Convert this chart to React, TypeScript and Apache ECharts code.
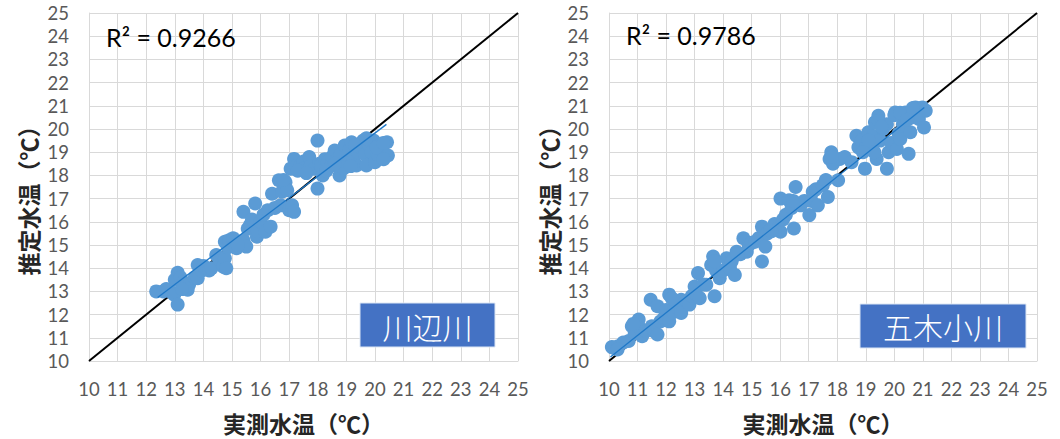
import React, { useEffect, useRef } from "react";
import * as echarts from "echarts";

// ---- Data ----
const AXIS_MIN = 10;
const AXIS_MAX = 25;
const AXIS_STEP = 1;
const ONE_TO_ONE = [AXIS_MIN, AXIS_MAX];

const xAxisTitle = "実測水温（℃）";
const yAxisTitle = "推定水温（℃）";

// 川辺川 (Kawabe River): measured vs estimated water temperature
const leftName = "川辺川";
const leftR2 = "R² = 0.9266";
const leftActual = [
  12.35, 12.6, 12.7, 12.9, 12.98, 13.1, 13.0, 13.1, 13.2, 13.3, 13.45, 13.5, 13.7, 13.8, 13.8, 13.95, 14.0, 14.1, 14.2,
  14.28, 14.45, 14.55, 14.6, 14.69, 14.75, 14.75, 14.85, 14.9, 15.04, 15.1, 15.16, 15.3, 15.4, 15.5, 15.4, 15.55, 15.63,
  15.7, 15.81, 15.87, 15.9, 16.0, 16.1, 16.17, 16.25, 16.35, 16.4, 16.5, 16.64, 16.7, 16.75, 16.87, 16.93, 17.0, 17.1,
  17.17, 17.05, 17.17, 17.25, 17.4, 17.5, 17.52, 17.7, 17.75, 17.88, 17.99, 17.99, 18.05, 18.11, 18.17, 18.25, 18.35,
  18.47, 18.5, 18.59, 18.7, 18.76, 18.8, 18.94, 19.0, 19.06, 19.1, 19.18, 19.25, 19.35, 19.41, 19.5, 19.59, 19.65, 19.7,
  19.8, 19.88, 19.95, 20.0, 20.1, 20.18, 20.25, 20.42, 20.45, 20.3,
  17.3, 17.6, 18.3, 18.9, 19.3, 19.7, 20.05, 20.3, 19.15, 18.6, 16.8, 15.2, 14.8, 13.25,
];
const leftEstimated = [
  13.0, 13.0, 13.1, 12.95, 12.86, 12.43, 13.5, 13.8, 13.6, 13.4, 13.07, 13.3, 13.6, 13.57, 14.14, 13.9, 14.1, 14.0, 13.9,
  14.0, 14.57, 14.4, 14.3, 14.07, 14.43, 15.14, 14.9, 15.2, 15.29, 15.0, 14.86, 15.1, 15.2, 14.93, 16.43, 15.7, 15.86,
  16.1, 16.79, 15.36, 15.6, 16.0, 16.3, 15.57, 16.5, 15.79, 17.21, 16.6, 17.79, 16.71, 17.3, 17.71, 17.36, 16.5, 16.71,
  16.43, 18.29, 18.71, 18.4, 18.43, 18.6, 18.3, 18.79, 18.4, 18.29, 19.5, 17.43, 18.5, 18.43, 18.0, 18.7, 18.57,
  18.43, 18.8, 19.07, 18.71, 18.0, 18.9, 19.29, 18.6, 18.86, 19.1, 19.43, 18.7, 18.43, 19.0, 19.2, 19.5, 18.9, 18.43,
  19.3, 19.0, 19.5, 18.57, 18.9, 19.29, 19.1, 19.43, 18.86, 18.7,
  18.2, 18.1, 18.2, 18.3, 19.3, 19.6, 19.2, 19.4, 18.4, 18.5, 17.8, 15.0, 14.0, 13.1,
];
const leftTrendX = [12.4, 20.4];
const leftTrendY = [12.74, 20.2];

// 五木小川 (Itsukiogawa River)
const rightName = "五木小川";
const rightR2 = "R² = 0.9786";
const rightActual = [
  10.1, 10.15, 10.33, 10.5, 10.69, 10.8, 10.9, 11.04, 11.1, 11.16, 11.3, 11.46, 11.5, 11.58, 11.7, 11.7, 11.8, 11.93, 12.0,
  12.11, 12.11, 12.25, 12.35, 12.4, 12.53, 12.53, 12.7, 12.82, 12.9, 13.0, 13.05, 13.12, 13.18, 13.3, 13.41, 13.58, 13.65,
  13.7, 13.75, 13.88, 14.0, 14.12, 14.24, 14.3, 14.41, 14.47, 14.6, 14.71, 14.83, 14.9, 15.0, 15.12, 15.25, 15.36, 15.36,
  15.48, 15.55, 15.65, 15.8, 15.9, 16.01, 16.01, 16.1, 16.2, 16.31, 16.4, 16.48, 16.54, 16.6, 16.72, 16.85, 17.02, 17.1,
  17.14, 17.25, 17.32, 17.49, 17.6, 17.67, 17.73, 17.79, 17.85, 18.03, 18.09, 18.26, 18.5, 18.67, 18.74, 18.85, 18.97,
  19.0, 19.09, 19.2, 19.25, 19.32, 19.38, 19.44, 19.5, 19.6, 19.74, 19.74, 19.8, 19.9, 20.03, 20.09, 20.15, 20.21, 20.3,
  20.39, 20.5, 20.56, 20.6, 20.74, 20.86, 20.98, 21.04, 21.1,
  19.1, 19.45, 19.55, 19.3, 20.0, 20.2, 20.65, 20.45, 18.9, 17.8, 16.45, 15.7, 14.5, 13.7, 12.2, 10.3, 10.85,
];
const rightEstimated = [
  10.6, 10.57, 10.64, 10.8, 10.86, 11.5, 11.2, 11.79, 11.4, 11.07, 11.3, 12.64, 11.5, 11.29, 11.14, 12.36, 11.7, 11.86, 12.2,
  12.86, 11.71, 12.1, 12.6, 12.3, 12.07, 12.64, 12.6, 12.43, 12.8, 13.21, 12.9, 13.79, 12.71, 13.3, 13.29, 14.14, 14.5,
  12.79, 13.9, 13.57, 13.9, 14.43, 14.0, 14.3, 13.71, 14.71, 14.6, 15.29, 14.71, 15.0, 15.1, 15.14, 15.3, 15.79, 14.29,
  14.93, 15.5, 15.64, 15.9, 15.7, 17.0, 15.57, 16.1, 16.3, 16.93, 16.6, 15.71, 17.5, 16.8, 16.71, 16.9, 16.29, 16.9,
  17.29, 17.4, 16.71, 17.57, 17.8, 17.07, 18.71, 19.0, 18.5, 17.79, 18.71, 18.79, 18.57, 19.71, 19.21, 19.5, 18.29,
  19.2, 19.86, 19.29, 19.7, 20.29, 18.71, 20.57, 19.5, 20.0, 20.21, 18.29, 19.0, 19.4, 20.71, 19.14, 19.8, 19.57, 20.2,
  20.71, 18.93, 19.86, 20.5, 20.93, 20.43, 20.93, 20.07, 20.79,
  19.5, 20.35, 20.1, 19.0, 20.6, 20.7, 20.9, 20.4, 19.0, 18.8, 16.9, 15.6, 14.6, 14.3, 12.7, 10.5, 11.6,
];
const rightTrendX = [10.05, 21.05];
const rightTrendY = [10.17, 20.93];

// ---- Styles ----
const NUM_FONT = "Lato, 'Noto Sans', sans-serif";
const CJK_FONT = "'Noto Sans CJK JP', sans-serif";
const GRID_COLOR = "#D9D9D9";
const LABEL_COLOR = "#595959";
const POINT_COLOR = "#5B9BD5";
const TREND_COLOR = "#1F78C8";
const BOX_COLOR = "#4472C4";

const pairs = (xs: number[], ys: number[]) => xs.map((x, i) => [x, ys[i]]);

function makeAxis(kind: "x" | "y", index: number) {
  const base: any = {
    type: "value",
    gridIndex: index,
    min: AXIS_MIN,
    max: AXIS_MAX,
    interval: AXIS_STEP,
    axisLine: { show: true, lineStyle: { color: GRID_COLOR, width: 1 } },
    axisTick: { show: false },
    splitLine: { show: true, lineStyle: { color: GRID_COLOR, width: 1 } },
    axisLabel: {
      color: LABEL_COLOR,
      fontSize: 18.5,
      fontFamily: NUM_FONT,
      margin: kind === "x" ? 18 : 20,
    },
  };
  if (kind === "x") {
    base.name = xAxisTitle;
    base.nameLocation = "middle";
    base.nameGap = 50;
    base.nameTextStyle = {
      fontSize: 23,
      fontWeight: "bold",
      fontFamily: CJK_FONT,
      color: "#262626",
    };
  }
  return base;
}

export default function App() {
  const ref = useRef<HTMLDivElement>(null);

  useEffect(() => {
    if (!ref.current) return;
    const chart = echarts.init(ref.current, undefined, { renderer: "svg" });

    const grids = [
      { left: 89, top: 13, width: 429, height: 350 },
      { left: 609, top: 13, width: 428, height: 350 },
    ];

    const panels = [
      { actual: leftActual, est: leftEstimated, tx: leftTrendX, ty: leftTrendY },
      { actual: rightActual, est: rightEstimated, tx: rightTrendX, ty: rightTrendY },
    ];

    const series: any[] = [];
    panels.forEach((p, i) => {
      series.push({
        type: "line",
        xAxisIndex: i,
        yAxisIndex: i,
        data: [
          [ONE_TO_ONE[0], ONE_TO_ONE[0]],
          [ONE_TO_ONE[1], ONE_TO_ONE[1]],
        ],
        symbol: "none",
        lineStyle: { color: "#000000", width: 2 },
        z: 1,
        silent: true,
      });
      series.push({
        type: "scatter",
        xAxisIndex: i,
        yAxisIndex: i,
        data: pairs(p.actual, p.est),
        symbolSize: 14,
        itemStyle: { color: POINT_COLOR, opacity: 1 },
        z: 2,
      });
      series.push({
        type: "line",
        xAxisIndex: i,
        yAxisIndex: i,
        data: pairs(p.tx, p.ty),
        symbol: "none",
        lineStyle: { color: TREND_COLOR, width: 1.3 },
        z: 3,
        silent: true,
      });
    });

    const textStyleR2 = { fontSize: 25, fontFamily: NUM_FONT, fill: "#000", align: "left", verticalAlign: "middle" };
    const titleStyle = { fontSize: 23, fontFamily: CJK_FONT, fontWeight: "bold", fill: "#262626", align: "center", verticalAlign: "middle" };
    const nameStyle = { fontSize: 30, fontFamily: CJK_FONT, fontWeight: 300, fill: "#FFFFFF", align: "center", verticalAlign: "middle" };

    const graphic: any[] = [
      { type: "text", x: 106, y: 37, style: { ...textStyleR2, text: leftR2 }, z: 10 },
      { type: "text", x: 626, y: 35, style: { ...textStyleR2, text: rightR2 }, z: 10 },
      {
        type: "rect",
        shape: { x: 360, y: 303, width: 135, height: 44 },
        style: { fill: BOX_COLOR, stroke: "#DCE6F4", lineWidth: 1 },
        z: 10,
      },
      { type: "text", x: 427.5, y: 326, style: { ...nameStyle, text: leftName }, z: 11 },
      {
        type: "rect",
        shape: { x: 860, y: 304, width: 166, height: 44 },
        style: { fill: BOX_COLOR, stroke: "#DCE6F4", lineWidth: 1 },
        z: 10,
      },
      { type: "text", x: 943, y: 326, style: { ...nameStyle, text: rightName }, z: 11 },
      { type: "text", x: 28, y: 195, rotation: Math.PI / 2, style: { ...titleStyle, text: yAxisTitle }, z: 10 },
      { type: "text", x: 549, y: 195, rotation: Math.PI / 2, style: { ...titleStyle, text: yAxisTitle }, z: 10 },
    ];

    chart.setOption({
      animation: false,
      backgroundColor: "#FFFFFF",
      grid: grids,
      xAxis: [makeAxis("x", 0), makeAxis("x", 1)],
      yAxis: [makeAxis("y", 0), makeAxis("y", 1)],
      series,
      graphic,
    });

    return () => chart.dispose();
  }, []);

  return (
    <div
      ref={ref}
      style={{ position: "absolute", left: 0, top: 0, width: 1060, height: 439 }}
    />
  );
}
